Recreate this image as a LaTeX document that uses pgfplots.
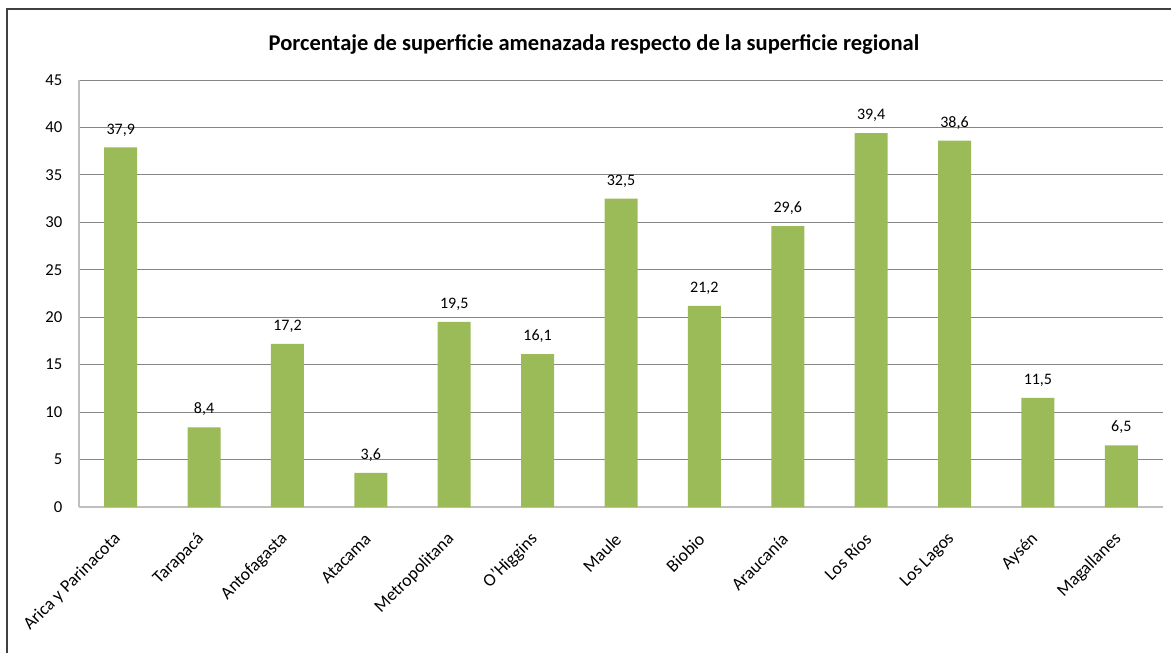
\documentclass[border=0pt]{standalone}
\usepackage{pgfplots}
\pgfplotsset{compat=1.18}
\usepackage{fontspec}
\setmainfont{Carlito}
\definecolor{barg}{HTML}{9BBB59}
\definecolor{gridg}{HTML}{868686}
\definecolor{axg}{HTML}{BFBFBF}
\definecolor{frameg}{HTML}{404040}
\pgfplotstableread{
x v lab
0 37.9 37,9
1 8.4 8,4
2 17.2 17,2
3 3.6 3,6
4 19.5 19,5
5 16.1 16,1
6 32.5 32,5
7 21.2 21,2
8 29.6 29,6
9 39.4 39,4
10 38.6 38,6
11 11.5 11,5
12 6.5 6,5
}\datatab
\begin{document}
\begin{tikzpicture}
\useasboundingbox (0pt,0pt) rectangle (878.25pt,-489.75pt);
\draw[line width=1.6pt, frameg] (5.25pt,-495pt) -- (5.25pt,-6.75pt) -- (885pt,-6.75pt);
\node[font=\bfseries\fontsize{16.9}{19}\selectfont] at (445.5pt,-33pt) {Porcentaje de superficie amenazada respecto de la superficie regional};
\begin{axis}[
  at={(59.25pt,-380.25pt)}, anchor=south west,
  scale only axis, width=813pt, height=320.25pt,
  xmin=-0.5, xmax=12.5, ymin=0, ymax=45,
  ytick={0,5,...,45}, xtick={0,...,12},
  xticklabels={Arica y Parinacota,Tarapacá,Antofagasta,Atacama,Metropolitana,O'Higgins,Maule,Biobio,Araucanía,Los Ríos,Los Lagos,Aysén,Magallanes},
  major tick length=0pt,
  axis lines*=left,
  axis line style={axg, line width=1pt},
  ymajorgrids, grid style={gridg, line width=0.75pt},
  /pgf/number format/assume math mode=true,
  yticklabel style={font=\fontsize{12.5}{14}\selectfont, xshift=-9pt},
  xticklabel style={font=\fontsize{13.3}{15}\selectfont, yshift=-22pt, xshift=-2pt, rotate=45, anchor=east, inner sep=0pt},
  clip=false,
]
\addplot[ybar, bar width=24.75pt, fill=barg, draw=none,
  nodes near coords, point meta=explicit symbolic,
  nodes near coords style={font=\fontsize{12}{14}\selectfont, anchor=base, inner sep=0pt, yshift=10pt}]
  table[x=x, y=v, meta=lab] {\datatab};
\end{axis}
\end{tikzpicture}
\end{document}
